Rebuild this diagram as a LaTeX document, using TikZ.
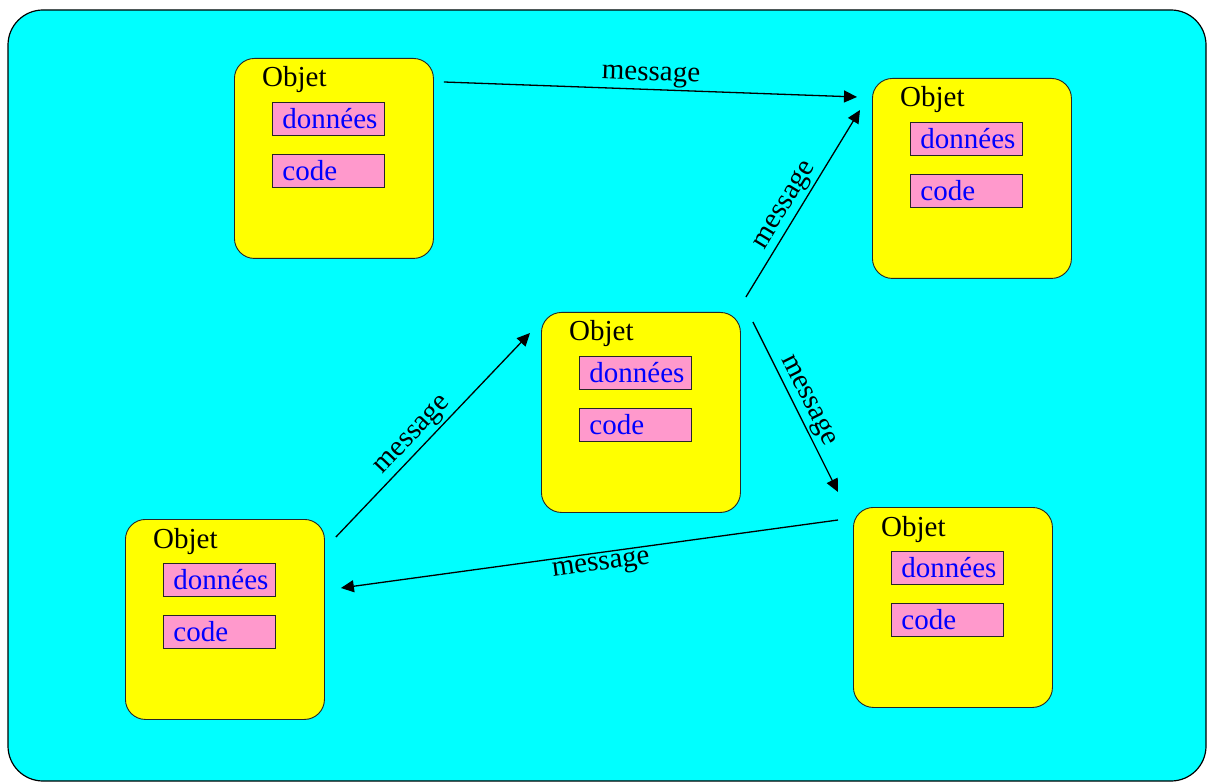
\documentclass[tikz,border=0pt]{standalone}
\usepackage{fontspec}
\setmainfont{Liberation Serif}
\usetikzlibrary{arrows.meta,calc}
\definecolor{bgcyan}{RGB}{0,255,255}
\definecolor{objyellow}{RGB}{255,255,0}
\definecolor{champpink}{RGB}{255,153,204}
\definecolor{champblue}{RGB}{0,0,255}
\newcommand\objet[3]{%
  \node[obj, anchor=north west] (#1) at (#2,#3) {};
  \node[titre, anchor=base west] (#1t) at ($(#1.north west)+(28,29)$) {Objet};
  \node[champ, anchor=north west] (#1d) at ($(#1.north west)+(38,44)$) {données};
  \node[champ, anchor=north west] (#1c) at ($(#1.north west)+(38,96)$) {code};
}
\begin{document}
\begin{tikzpicture}[x=1pt,y=-1pt,
  every node/.style={font=\fontsize{29}{31}\selectfont},
  obj/.style={draw=black!85, fill=objyellow, rounded corners=20pt, line width=0.9pt,
    minimum width=199pt, minimum height=200pt, inner sep=0pt},
  titre/.style={inner sep=0pt, text=black},
  champ/.style={draw=black!85, fill=champpink, line width=0.9pt, text=champblue,
    text width=92pt, inner xsep=10pt, inner ysep=0pt, minimum height=33pt, align=left},
  msg/.style={draw=black, line width=1.3pt, -{Triangle[length=13pt,width=12pt]}},
  lab/.style={inner sep=2pt, text=black}]
\useasboundingbox (0,0) rectangle (1209,783);
\draw[fill=bgcyan, rounded corners=35pt, line width=1.2pt] (8,10) rectangle (1206,781);
\objet{o1}{234}{58}
\objet{o2}{872}{78}
\objet{o3}{541}{312}
\objet{o4}{125}{519}
\objet{o5}{853}{507}
\draw[msg] ($(o1.north east)+(10,24)$) -- node[lab,above,sloped]{message} ($(o2.north west)+(-15,19)$);
\draw[msg] ($(o3.north east)+(5,-15)$) -- node[lab,above,sloped,pos=0.45]{message} ($(o2.north west)+(-12,32)$);
\draw[msg] ($(o4.north east)+(11,18)$) -- node[lab,above,sloped,pos=0.45]{message} ($(o3.north west)+(-11,21)$);
\draw[msg] ($(o3.north east)+(12,10)$) -- node[lab,above,sloped]{message} ($(o5.north west)+(-15,-15)$);
\draw[msg] ($(o5.north west)+(-15,13)$) -- node[lab,below,sloped,pos=0.48]{message} ($(o4.north east)+(16,69)$);
\end{tikzpicture}
\end{document}
